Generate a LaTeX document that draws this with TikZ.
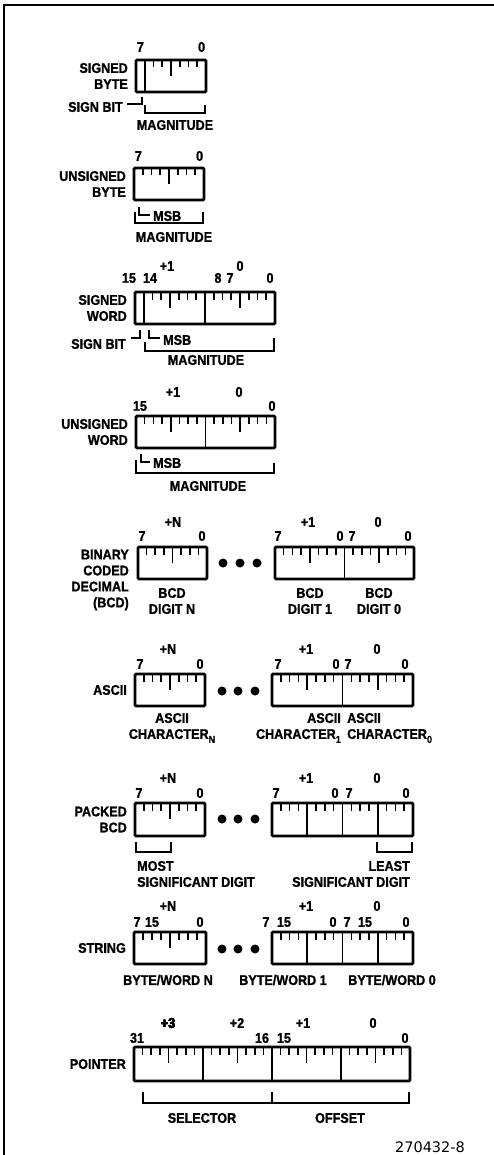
\documentclass[tikz,border=0pt]{standalone}
\usepackage{fontspec}
\setmainfont{Liberation Sans}[FakeStretch=0.9,BoldFeatures={FakeBold=1.2}]
\newfontfamily\codefont{DejaVu Sans}
\usetikzlibrary{calc,positioning}

\tikzset{
  field/.style={rectangle,draw,line width=2.8pt,rounded corners=1.2pt,
    inner sep=0pt,outer sep=0pt},
  tickline/.style={line width=1.6pt},
  divline/.style={line width=1.9pt},
  bracket/.style={line width=1.7pt,line join=miter},
  lbl/.style={font=\fontsize{14}{16}\selectfont\bfseries,inner sep=1pt},
  figno/.style={font=\codefont\fontsize{14.5}{16}\selectfont,inner sep=1pt},
  dot/.style={circle,fill,inner sep=0pt,minimum size=9},
  frame/.style={line width=1.6pt,line join=miter},
}

% box with a short tick at every bit boundary
\newcommand{\bitfield}[6][32]{%
  \node[field,minimum width=#5,minimum height=#1,anchor=north west] (#2) at (#3,#4) {};
  \pgfmathtruncatemacro{\nlast}{#6-1}
  \foreach \k [evaluate=\k as \pos using \k/#6] in {1,...,\nlast}
    \draw[tickline] ($(#2.north west)!\pos!(#2.north east)$) -- ++(0,7.5);
}
\newcommand{\halftick}[2]{\draw[tickline] ($(#1.north west)!#2!(#1.north east)$) -- ++(0,16);}
\newcommand{\fielddiv}[2]{\draw[divline] ($(#1.north west)!#2!(#1.north east)$) -- ($(#1.south west)!#2!(#1.south east)$);}
\newcommand{\chsub}[1]{\raisebox{-4pt}{\fontsize{10}{10}\selectfont #1}}

\begin{document}
\begin{tikzpicture}[x=1pt,y=-1pt]
  \useasboundingbox (0,0) rectangle (494,1155);
  \draw[frame] (494,5) -- (4,5) -- (4,1155);

  % signed byte
  \bitfield{sb}{136}{60}{70}{8}
  \fielddiv{sb}{0.125}
  \halftick{sb}{0.5}
  \node[lbl] (sb7) at (140.4,47) {7};
  \node[lbl] (sb0) at (201.6,47) {0};
  \node[lbl,align=right,left=7pt of sb] (sbname) {SIGNED\\BYTE};
  \node[lbl,anchor=east] (sbsign) at (124,107) {SIGN BIT};
  \coordinate (sbbit) at (142,97);
  \draw[bracket] ([xshift=3pt,yshift=3pt]sbsign.east) -| (sbbit);
  \coordinate (sbmagl) at (145,105);
  \coordinate (sbmagr) at (205,105);
  \draw[bracket] (sbmagl) -- ++(0,8) -| (sbmagr);
  \node[lbl] (sbmag) at (175,125) {MAGNITUDE};

  % unsigned byte
  \bitfield{ub}{134}{168}{70}{8}
  \halftick{ub}{0.5}
  \node[lbl] (ub7) at (138.4,156) {7};
  \node[lbl] (ub0) at (199.6,156) {0};
  \node[lbl,align=right,left=7pt of ub] (ubname) {UNSIGNED\\BYTE};
  \node[lbl,anchor=west] (ubmsb) at (152,216) {MSB};
  \coordinate (ubtop) at (139,207);
  \draw[bracket] (ubtop) |- ([xshift=-2pt,yshift=1pt]ubmsb.west);
  \coordinate (ubmagl) at (135,212);
  \coordinate (ubmagr) at (203,212);
  \draw[bracket] (ubmagl) -- ++(0,11) -| (ubmagr);
  \node[lbl] (ubmag) at (174,237) {MAGNITUDE};

  % signed word
  \bitfield{sw}{135}{292}{140}{16}
  \fielddiv{sw}{0.0625}
  \fielddiv{sw}{0.5}
  \halftick{sw}{0.25}
  \halftick{sw}{0.75}
  \node[lbl] (swb1) at (167,266) {+1};
  \node[lbl] (swb0) at (240,266) {0};
  \node[lbl] (sw15) at (129,278) {15};
  \node[lbl] (sw14) at (150,278) {14};
  \node[lbl] (sw8) at (218,278) {8};
  \node[lbl] (sw7) at (230,278) {7};
  \node[lbl] (sw0) at (270,278) {0};
  \node[lbl,align=right,left=7pt of sw] (swname) {SIGNED\\WORD};
  \node[lbl,anchor=east] (swsign) at (127,344) {SIGN BIT};
  \coordinate (swbit) at (140,330);
  \draw[bracket] ([xshift=4pt,yshift=6pt]swsign.east) -| (swbit);
  \node[lbl,anchor=west] (swmsb) at (162,340) {MSB};
  \coordinate (swtop) at (149,330);
  \draw[bracket] (swtop) |- ([xshift=-2pt,yshift=2pt]swmsb.west);
  \coordinate (swmagl) at (145,342);
  \coordinate (swmagr) at (274,338);
  \draw[bracket] (swmagl) -- ++(0,9) -| (swmagr);
  \node[lbl] (swmag) at (206,360) {MAGNITUDE};

  % unsigned word
  \bitfield{uw}{136}{416}{139}{16}
  \fielddiv{uw}{0.5}
  \halftick{uw}{0.25}
  \halftick{uw}{0.75}
  \node[lbl] (uwb1) at (173,392) {+1};
  \node[lbl] (uwb0) at (239,392) {0};
  \node[lbl] (uw15) at (140,406) {15};
  \node[lbl] (uw0) at (272,406) {0};
  \node[lbl,align=right,left=7pt of uw] (uwname) {UNSIGNED\\WORD};
  \node[lbl,anchor=west] (uwmsb) at (152,463) {MSB};
  \coordinate (uwtop) at (141,454);
  \draw[bracket] (uwtop) |- ([xshift=-2pt,yshift=1pt]uwmsb.west);
  \coordinate (uwmagl) at (136,460);
  \coordinate (uwmagr) at (274,463);
  \draw[bracket] (uwmagl) -- ++(0,13) -| (uwmagr);
  \node[lbl] (uwmag) at (208,486) {MAGNITUDE};

  % binary coded decimal
  \bitfield{bn}{138}{547}{69}{8}
  \halftick{bn}{0.5}
  \bitfield{bz}{275}{547}{139}{16}
  \fielddiv{bz}{0.5}
  \halftick{bz}{0.25}
  \halftick{bz}{0.75}
  \node[lbl] (bnbn) at (173,522) {+N};
  \node[lbl] (bnb1) at (308,522) {+1};
  \node[lbl] (bnb0) at (378,522) {0};
  \node[lbl] (bn7) at (142,536) {7};
  \node[lbl] (bn0) at (202,536) {0};
  \node[lbl] (bz15) at (278,536) {7};
  \node[lbl] (bz8) at (340,536) {0};
  \node[lbl] (bz7) at (352,536) {7};
  \node[lbl] (bz0) at (408,536) {0};
  \node[lbl,align=right,anchor=east] (bcdname) at (130,580) {BINARY\\CODED\\DECIMAL\\(BCD)};
  \foreach \x [count=\i] in {223,240,257}
    \node[dot] (bdot\i) at (\x,563) {};
  \node[lbl,align=center] (bcdn) at (172,601) {BCD\\DIGIT N};
  \node[lbl,align=center] (bcd1) at (310,601) {BCD\\DIGIT 1};
  \node[lbl,align=center] (bcd0) at (379,601) {BCD\\DIGIT 0};

  % ascii
  \bitfield{an}{135}{674}{70}{8}
  \halftick{an}{0.5}
  \bitfield{az}{272}{674}{141}{16}
  \fielddiv{az}{0.5}
  \halftick{az}{0.25}
  \halftick{az}{0.75}
  \node[lbl] (anbn) at (168,649) {+N};
  \node[lbl] (anb1) at (306,649) {+1};
  \node[lbl] (anb0) at (377,649) {0};
  \node[lbl] (an7) at (140,664) {7};
  \node[lbl] (an0) at (200,664) {0};
  \node[lbl] (az15) at (278,664) {7};
  \node[lbl] (az8) at (336,664) {0};
  \node[lbl] (az7) at (348,664) {7};
  \node[lbl] (az0) at (405,664) {0};
  \node[lbl,left=7pt of an] (anname) {ASCII};
  \foreach \x [count=\i] in {222,238,255}
    \node[dot] (adot\i) at (\x,691) {};
  \node[lbl,align=center] (chn) at (172,728) {ASCII\\CHARACTER\chsub{N}};
  \node[lbl,align=right,anchor=east] (ch1) at (342,728) {ASCII\\CHARACTER\chsub{1}};
  \node[lbl,align=left,anchor=west] (ch0) at (346,728) {ASCII\\CHARACTER\chsub{0}};

  % packed bcd
  \bitfield[33]{pn}{135}{803}{70}{8}
  \halftick{pn}{0.5}
  \bitfield[33]{pz}{272}{803}{141}{16}
  \fielddiv{pz}{0.25}
  \fielddiv{pz}{0.5}
  \fielddiv{pz}{0.75}
  \node[lbl] (pnbn) at (168,778) {+N};
  \node[lbl] (pnb1) at (306,778) {+1};
  \node[lbl] (pnb0) at (377,778) {0};
  \node[lbl] (pn7) at (139,793) {7};
  \node[lbl] (pn0) at (200,793) {0};
  \node[lbl] (pz15) at (276,793) {7};
  \node[lbl] (pz8) at (335,793) {0};
  \node[lbl] (pz7) at (349,793) {7};
  \node[lbl] (pz0) at (406,793) {0};
  \node[lbl,align=right,left=7pt of pn] (pname) {PACKED\\BCD};
  \foreach \x [count=\i] in {222,238,255}
    \node[dot] (pdot\i) at (\x,819) {};
  \coordinate (msdl) at (136,842);
  \coordinate (msdr) at (171,842);
  \draw[bracket] (msdl) -- ++(0,10) -| (msdr);
  \coordinate (lsdl) at (377,842);
  \coordinate (lsdr) at (412,842);
  \draw[bracket] (lsdl) -- ++(0,10) -| (lsdr);
  \node[lbl,align=left,anchor=west] (msd) at (136,874) {MOST\\SIGNIFICANT DIGIT};
  \node[lbl,align=right,anchor=east] (lsd) at (411,874) {LEAST\\SIGNIFICANT DIGIT};

  % string
  \bitfield{stn}{134}{932}{72}{8}
  \halftick{stn}{0.5}
  \bitfield{stz}{272}{932}{141}{16}
  \fielddiv{stz}{0.25}
  \fielddiv{stz}{0.5}
  \fielddiv{stz}{0.75}
  \node[lbl] (stbn) at (168,906) {+N};
  \node[lbl] (stb1) at (306,906) {+1};
  \node[lbl] (stb0) at (377,906) {0};
  \node[lbl] (stn7) at (137,922) {7};
  \node[lbl] (stn15) at (152,922) {15};
  \node[lbl] (stn0) at (200,922) {0};
  \node[lbl] (st17) at (266,922) {7};
  \node[lbl] (st115) at (284,922) {15};
  \node[lbl] (st10) at (333,922) {0};
  \node[lbl] (st07) at (347,922) {7};
  \node[lbl] (st015) at (365,922) {15};
  \node[lbl] (st00) at (406,922) {0};
  \node[lbl,left=7pt of stn] (stname) {STRING};
  \foreach \x [count=\i] in {222,238,255}
    \node[dot] (sdot\i) at (\x,949) {};
  \node[lbl] (bwn) at (168,980) {BYTE/WORD N};
  \node[lbl] (bw1) at (283,980) {BYTE/WORD 1};
  \node[lbl] (bw0) at (392,980) {BYTE/WORD 0};

  % pointer
  \bitfield[34]{pt}{134}{1047}{276}{32}
  \fielddiv{pt}{0.25}
  \fielddiv{pt}{0.5}
  \fielddiv{pt}{0.75}
  \foreach \f in {0.125,0.375,0.625,0.875}
    \halftick{pt}{\f}
  \node[lbl] (ptb3) at (168,1023) {+3};
  \node[lbl] (ptb2) at (237,1023) {+2};
  \node[lbl] (ptb1) at (303,1023) {+1};
  \node[lbl] (ptb0) at (373,1023) {0};
  \node[lbl] (pt31) at (137,1038) {31};
  \node[lbl] (pt16) at (262,1038) {16};
  \node[lbl] (pt15) at (284,1038) {15};
  \node[lbl] (pt0) at (405,1038) {0};
  \node[lbl,left=7pt of pt] (ptname) {POINTER};
  \coordinate (ptl) at (143,1092);
  \coordinate (ptm) at (272,1092);
  \coordinate (ptr) at (409,1092);
  \draw[bracket] (ptl) -- ++(0,11) -| (ptr);
  \draw[bracket] (ptm) -- ++(0,11);
  \node[lbl] (sel) at (202,1118) {SELECTOR};
  \node[lbl] (off) at (340,1118) {OFFSET};
  \node[figno] (fig) at (430,1147) {270432-8};
\end{tikzpicture}
\end{document}
